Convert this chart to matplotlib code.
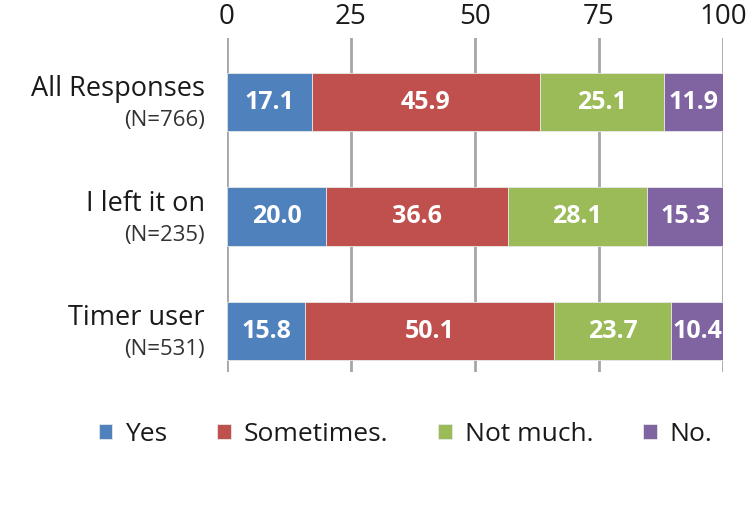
import numpy as np
import matplotlib.pyplot as plt

plt.rcParams['font.family'] = ['Open Sans', 'DejaVu Sans']

categories = ['All Responses', 'I left it on', 'Timer user']
counts = ['(N=766)', '(N=235)', '(N=531)']
series = ['Yes', 'Sometimes.', 'Not much.', 'No.']
yes = [17.1, 20.0, 15.8]
sometimes = [45.9, 36.6, 50.1]
not_much = [25.1, 28.1, 23.7]
no = [11.9, 15.3, 10.4]
ticks = [0, 25, 50, 75, 100]

colors = ['#4F81BD', '#C0504D', '#9BBB59', '#8064A2']

fig = plt.figure(figsize=(7.54, 5.12), dpi=100)
ax = fig.add_axes([0.301, 0.273, 0.658, 0.653])

y = np.arange(len(categories))
left = np.zeros(len(categories))
for name, vals, col in zip(series, [yes, sometimes, not_much, no], colors):
    vals = np.array(vals)
    ax.barh(y, vals, left=left, height=0.51, color=col, label=name,
            edgecolor='#E8E8E8', linewidth=0.6, zorder=3)
    for yi, l, v in zip(y, left, vals):
        ax.text(l + v / 2, yi, '%.1f' % v, ha='center', va='center',
                color='white', fontsize=18, fontweight='bold', zorder=4)
    left += vals

ax.set_xlim(0, 100)
ax.set_ylim(2.36, -0.56)
ax.xaxis.tick_top()
ax.set_xticks(ticks)
ax.set_xticklabels([str(t) for t in ticks], fontsize=20, color='#1a1a1a')
ax.tick_params(axis='x', length=0, pad=5)
ax.set_yticks([])
for s in ax.spines.values():
    s.set_visible(False)
ax.grid(axis='x', color='#A6A6A6', linewidth=2, zorder=0)
ax.set_axisbelow(True)

for yi, cat, n in zip(y, categories, counts):
    ax.text(-0.044, yi - 0.11, cat, transform=ax.get_yaxis_transform(),
            ha='right', va='center', fontsize=19.5, color='#1a1a1a')
    ax.text(-0.044, yi + 0.165, n, transform=ax.get_yaxis_transform(),
            ha='right', va='center', fontsize=16, color='#333333')

fig.legend(loc='center', bbox_to_anchor=(0.538, 0.152), ncol=4, frameon=False,
           fontsize=19, handlelength=0.5, handleheight=0.5, handletextpad=0.5,
           columnspacing=1.9, labelcolor='#1a1a1a')

fig.savefig('out.png', dpi=100)
